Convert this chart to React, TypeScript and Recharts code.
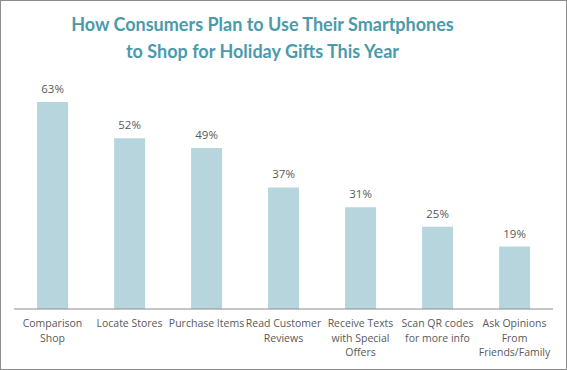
import { BarChart, Bar, XAxis, YAxis, LabelList } from "recharts";

const categories = [
  "Comparison Shop",
  "Locate Stores",
  "Purchase Items",
  "Read Customer Reviews",
  "Receive Texts with Special Offers",
  "Scan QR codes for more info",
  "Ask Opinions From Friends/Family",
];
const shares = [63, 52, 49, 37, 31, 25, 19];
const tickLines = [
  ["Comparison", "Shop"],
  ["Locate Stores"],
  ["Purchase Items"],
  ["Read Customer", "Reviews"],
  ["Receive Texts", "with Special", "Offers"],
  ["Scan QR codes", "for more info"],
  ["Ask Opinions", "From", "Friends/Family"],
];

const data = categories.map((name, i) => ({ name, value: shares[i] }));

const textGray = "#595959";
const font = "'Open Sans', sans-serif";

function WrappedTick(props: any) {
  const { x, y, payload } = props;
  const idx = categories.indexOf(payload.value);
  const lines = tickLines[idx] || [payload.value];
  return (
    <text x={x} y={y + 10} textAnchor="middle" fill={textGray} fontSize={10.5} fontFamily={font}>
      {lines.map((l, i) => (
        <tspan key={i} x={x} dy={i === 0 ? 0 : 14.5}>
          {l}
        </tspan>
      ))}
    </text>
  );
}

export default function App() {
  return (
    <div style={{ position: "relative", width: 567, height: 370, boxSizing: "border-box", border: "1px solid #8c8c8c", background: "#fff" }}>
      <style>{"body{margin:0}"}</style>
      <div
        style={{
          position: "absolute",
          top: 10,
          left: -22,
          width: 567,
          textAlign: "center",
          color: "#4b9aab",
          fontFamily: "Lato, sans-serif",
          fontWeight: "bold",
          fontSize: 18,
          lineHeight: "27px",
        }}
      >
        How Consumers Plan to Use Their Smartphones
        <br />
        to Shop for Holiday Gifts This Year
      </div>
      <div style={{ position: "absolute", top: -1, left: -1 }}>
        <BarChart width={567} height={370} data={data} margin={{ top: 79, right: 14, left: 14, bottom: 0 }} barCategoryGap="30%">
          <XAxis dataKey="name" height={61} interval={0} tick={<WrappedTick />} tickLine={false} axisLine={{ stroke: "#8c8c8c" }} />
          <YAxis hide domain={[0, 70]} />
          <Bar dataKey="value" fill="#b7d5dc" isAnimationActive={false}>
            <LabelList dataKey="value" position="top" offset={9} formatter={(v: any) => `${v}%`} fill={textGray} fontSize={11.5} fontFamily={font} />
          </Bar>
        </BarChart>
      </div>
    </div>
  );
}
